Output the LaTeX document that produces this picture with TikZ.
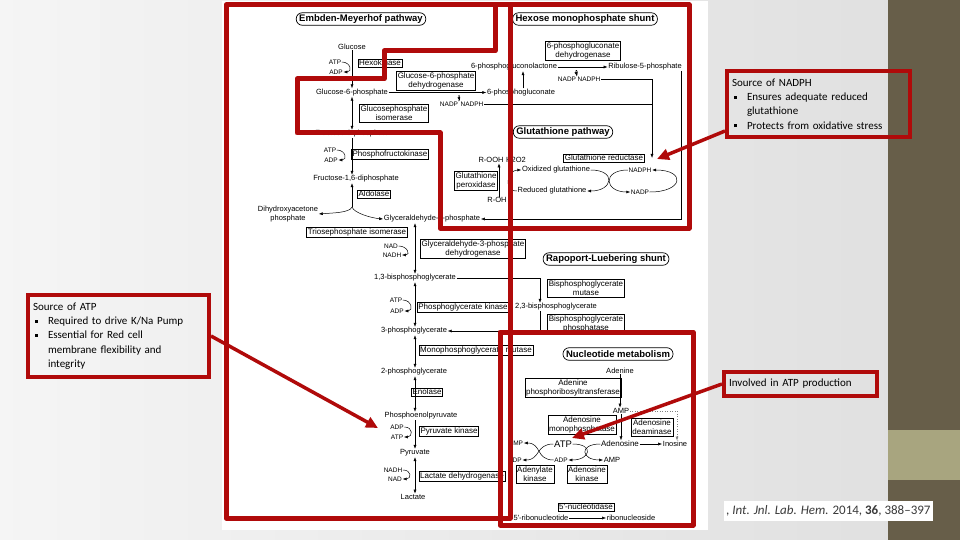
\documentclass[tikz,border=0pt]{standalone}
\usepackage{fontspec}
\newfontfamily\lsans{Liberation Sans}
\newfontfamily\carl{Carlito}
\usetikzlibrary{arrows.meta}
\definecolor{myred}{HTML}{B00A0A}
\definecolor{bandc}{HTML}{675E49}
\definecolor{khaki}{HTML}{A8A57F}
\definecolor{citec}{HTML}{3A3A3A}
\newcommand\bul{\makebox[15pt][l]{\hspace{2pt}\rule[2pt]{2.8pt}{2.8pt}}}
\newcommand\noteind{\hspace*{15pt}}
\begin{document}
\begin{tikzpicture}[x=1pt,y=-1pt,
 lbl/.style={font=\lsans\fontsize{7.5}{8.5}\selectfont, inner sep=0.5pt, align=center},
 sml/.style={font=\lsans\fontsize{6.5}{7.5}\selectfont, inner sep=0.5pt},
 enz/.style={draw, line width=0.5pt, font=\lsans\fontsize{8}{9.5}\selectfont, inner sep=1.2pt, align=center},
 ttl/.style={draw, line width=0.7pt, rounded corners=6pt, font=\lsans\bfseries\fontsize{9.5}{11}\selectfont, inner xsep=3pt, inner ysep=1pt, minimum height=12.5pt},
 arr/.style={-{Latex[length=4pt,width=3pt]}, line width=0.5pt},
 darr/.style={{Latex[length=4pt,width=3pt]}-{Latex[length=4pt,width=3pt]}, line width=0.5pt},
 redline/.style={draw=myred, line width=5pt, line join=round},
 redarr/.style={draw=myred, line width=3.5pt, -{Triangle[length=12pt,width=11pt]}},
 note/.style={draw=myred, line width=4pt, font=\carl\fontsize{11}{14.2}\selectfont, align=left, anchor=north west, inner xsep=5pt, inner ysep=2pt},
]
\useasboundingbox (0,0) rectangle (960,540);
% background
\shade[left color=white!96!black, right color=white!88!black] (0,0) rectangle (888,540);
\fill[bandc] (888,0) rectangle (960,540);
\fill[khaki] (888,430) rectangle (960,480);
\fill[white] (222,1) rectangle (708,530);

% axes
\coordinate (ay) at (352,0);
\coordinate (ax) at (415,0);

% ---------- titles
\node[ttl] (temp) at (361,19) {Embden-Meyerhof pathway};
\node[ttl] (thmp) at (585,19) {Hexose monophosphate shunt};
\node[ttl] (tglut) at (563,132) {Glutathione pathway};
\node[ttl] (trl) at (606,259) {Rapoport-Luebering shunt};
\node[ttl] (tnuc) at (618,354) {Nucleotide metabolism};

% ---------- Embden-Meyerhof
\node[lbl] (glc) at (352,47) {Glucose};
\node[sml] (atp1) at (335,62) {ATP};
\node[sml] (adp1) at (336,72) {ADP};
\node[enz] (hk) at (380,63) {Hexokinase};
\node[lbl] (g6p) at (352,92.5) {Glucose-6-phosphate};
\node[enz] (g6pd) at (436,81) {Glucose-6-phosphate\\dehydrogenase};
\node[sml] (nadp1) at (449,104) {NADP};
\node[sml] (nadph1) at (472,104) {NADPH};
\node[lbl] (pgl) at (514,67) {6-phosphogluconolactone};
\node[lbl] (pg) at (521,92.5) {6-phosphogluconate};
\node[enz] (pgdh) at (583,51) {6-phosphogluconate\\dehydrogenase};
\node[lbl] (ru5p) at (645,67) {Ribulose-5-phosphate};
\node[sml] (nadp2) at (567,79) {NADP};
\node[sml] (nadph2) at (589,79) {NADPH};
\node[enz] (gpi) at (394,113) {Glucosephosphate\\isomerase};
\node[lbl] (f6p) at (352,134) {Fructose-6-phosphate};
\node[sml] (atp2) at (330,150) {ATP};
\node[sml] (adp2) at (331,160) {ADP};
\node[enz] (pfk) at (390,154) {Phosphofructokinase};
\node[lbl] (f16bp) at (356,179) {Fructose-1,6-diphosphate};
\node[enz] (ald) at (374,194) {Aldolase};
\coordinate (split) at (352,207);
\node[lbl] (dhap) at (288,214) {Dihydroxyacetone\\phosphate};
\node[lbl] (g3p) at (432,219) {Glyceraldehyde-3-phosphate};
\node[enz] (tpi) at (357,232) {Triosephosphate isomerase};
\node[sml] (nad1) at (391,246) {NAD};
\node[sml] (nadh1) at (392,255) {NADH};
\node[enz] (gapdh) at (473,249) {Glyceraldehyde-3-phosphate\\dehydrogenase};
\node[lbl] (bpg13) at (415,278) {1,3-bisphosphoglycerate};
\node[sml] (atp3) at (396,300) {ATP};
\node[sml] (adp3) at (397,311) {ADP};
\node[enz] (pgk) at (463,307) {Phosphoglycerate kinase};
\node[lbl] (bpg23) at (556,307) {2,3-bisphosphoglycerate};
\node[lbl] (pg3) at (414,331) {3-phosphoglycerate};
\node[enz] (mpgm) at (476,350) {Monophosphoglycerate mutase};
\node[lbl] (pg2) at (414,372) {2-phosphoglycerate};
\node[enz] (eno) at (427,392) {Enolase};
\node[lbl] (pep) at (421,416) {Phosphoenolpyruvate};
\node[sml] (adp4) at (397,427) {ADP};
\node[sml] (atp4) at (397,437) {ATP};
\node[enz] (pk) at (449,431) {Pyruvate kinase};
\node[lbl] (pyr) at (415,453) {Pyruvate};
\node[sml] (nadh2) at (393,470) {NADH};
\node[sml] (nad2) at (395,479) {NAD};
\node[enz] (ldh) at (462,476) {Lactate dehydrogenase};
\node[lbl] (lac) at (413,497) {Lactate};

% glutathione
\node[enz] (gr) at (604,158) {Glutathione reductase};
\node[lbl] (rooh) at (491,160) {R-OOH};
\node[lbl] (h2o2) at (516,160) {H2O2};
\node[enz] (gpx) at (476,181) {Glutathione\\peroxidase};
\node[lbl] (roh) at (497,200) {R-OH};
\node[lbl] (oxg) at (556,170) {Oxidized glutathione};
\node[lbl] (redg) at (552,191) {Reduced glutathione};
\node[sml] (nadph3) at (640,170) {NADPH};
\node[sml] (nadp3) at (640,192) {NADP};
\coordinate (grin) at (652,158);
\coordinate (rc) at (681,219);

% Rapoport-Luebering
\node[enz] (bpgm) at (586,288) {Bisphosphoglycerate\\mutase};
\node[enz] (bpgp) at (586,324) {Bisphosphoglycerate\\phosphatase};

% nucleotide
\node[lbl] (ade) at (620,371) {Adenine};
\node[enz] (aprt) at (573,388) {Adenine\\phosphoribosyltransferase};
\node[lbl] (amp1) at (621,411) {AMP};
\node[enz] (ampase) at (582,425) {Adenosine\\monophosphatase};
\node[enz] (ada) at (652,427) {Adenosine\\deaminase};
\node[lbl, font=\lsans\fontsize{9.5}{10}\selectfont] (atpN) at (563,444) {ATP};
\node[lbl, font=\lsans\fontsize{8}{9}\selectfont] (ado) at (620,444) {Adenosine};
\node[lbl] (ino) at (675,444) {Inosine};
\node[sml] (adpN) at (561,460) {ADP};
\node[lbl] (ampN) at (612,460) {AMP};
\node[sml] (ampL) at (516,443) {AMP};
\node[sml] (adpL) at (515,460) {ADP};
\node[enz] (adk) at (535,474) {Adenylate\\kinase};
\node[enz] (adok) at (587,474) {Adenosine\\kinase};
\node[enz] (nt5) at (586,507) {5'-nucleotidase};
\node[lbl] (rnt) at (541,518) {5'-ribonucleotide};
\node[lbl] (rns) at (631,518) {ribonucleoside};

% ---------- connectors
\draw[arr] (glc.south) -- (ay |- g6p.north);
\draw[arr] (atp1.east) .. controls +(9,0) and +(9,0) .. (adp1.east);
\draw[darr] (ay |- g6p.south) -- (ay |- f6p.north);
\draw[arr] (g6p.east) -- (pg.west);
\draw[arr] (nadp1.north east) .. controls +(2,-7) and +(-2,-7) .. (nadph1.north west);
\draw[line width=0.5pt] (nadph1.east) -- (nadph1.east -| grin);
\draw[arr] ([xshift=2pt]pg.north) -- ([xshift=2pt]pg.north |- pgl.south);
\draw[arr] (pgl.east) -- (ru5p.west);
\draw[arr] (nadp2.north east) .. controls +(2,-7) and +(-2,-7) .. (nadph2.north west);
\draw[arr] (nadph2.east) -| (grin);
\draw[arr] (ru5p.south -| rc) |- (g3p.east);
\draw[arr] (ay |- f6p.south) -- (ay |- f16bp.north);
\draw[arr] (atp2.east) .. controls +(9,0) and +(9,0) .. (adp2.east);
\draw[arr] (split) -- (split |- f16bp.south);
\draw[arr] (split) .. controls +(-2,6) and +(12,-1) .. (dhap.east);
\draw[arr] (split) .. controls +(2,6) and +(-12,-1) .. (g3p.west);
\draw[darr] (ax |- g3p.south) -- (ax |- bpg13.north);
\draw[arr] (nad1.east) .. controls +(9,0) and +(9,0) .. (nadh1.east);
\draw[darr] (ax |- bpg13.south) -- (ax |- pg3.north);
\draw[arr] (atp3.east) .. controls +(9,0) and +(9,0) .. (adp3.east);
\draw[arr] (bpg13.east) -| ([xshift=-16pt]bpg23.north);
\draw[arr] ([xshift=-16pt]bpg23.south) |- (pg3.east);
\draw[darr] (ax |- pg3.south) -- (ax |- pg2.north);
\draw[darr] (ax |- pg2.south) -- (ax |- pep.north);
\draw[arr] (ax |- pep.south) -- (ax |- pyr.north);
\draw[arr] (adp4.east) .. controls +(9,0) and +(9,0) .. (atp4.east);
\draw[darr] (ax |- pyr.south) -- (ax |- lac.north);
\draw[arr] (nadh2.east) .. controls +(9,0) and +(9,0) .. (nad2.east);

\draw[arr] ([xshift=2pt]roh.north) -- ([xshift=2pt]roh.north |- rooh.south);
\draw[arr] (redg.west) .. controls +(-14,0) and +(-14,0) .. (oxg.west);
\draw[arr] (oxg.east) .. controls +(26,0) and +(26,0) .. (redg.east);
\draw[arr] (nadph3.west) .. controls +(-26,0) and +(-26,0) .. (nadp3.west);
\draw[arr] (nadp3.east) .. controls +(34,0) and +(34,0) .. (nadph3.east);

\draw[arr] (ade.south) -- (ade.south |- amp1.north);
\draw[arr] (amp1.south) -- (amp1.south |- ado.north);
\draw[arr, gray, dotted] (amp1.east) -| ([xshift=2pt]ino.north);
\draw[arr] (ado.east) -- (ino.west);
\draw[arr] (atpN.east) .. controls +(22,0) and +(22,0) .. (adpN.east);
\draw[arr] (ado.west) .. controls +(-22,0) and +(-22,0) .. (ampN.west);
\draw[arr] (atpN.west) .. controls +(-18,0) and +(18,0) .. (adpL.east);
\draw[arr] (adpN.west) .. controls +(-18,0) and +(18,0) .. (ampL.east);
\draw[arr] (rnt.east) -- (rns.west);

% ---------- red outlines
\draw[redline] (226,5) rectangle (510,518);
\draw[redline] (495,5) -- (689,5) -- (689,228) -- (440,228) -- (440,133) -- (297,133) -- (297,79) -- (384,79) -- (384,51) -- (495,51) -- cycle;
\draw[redline] (500,332) rectangle (693,525);

% ---------- notes
\node[note, text width=173pt, minimum height=66pt] (nb) at (725,69) {Source of NADPH\\
\bul Ensures adequate reduced\\
\noteind glutathione\\
\bul Protects from oxidative stress};
\node[note, text width=171pt, minimum height=82pt] (ab) at (26,293) {Source of ATP\\
\bul Required to drive K/Na Pump\\
\bul Essential for Red cell\\
\noteind membrane flexibility and\\
\noteind integrity};
\node[note, text width=143pt, minimum height=24pt] (ib) at (722,370) {Involved in ATP production};

\coordinate (tipN) at (657,159);
\coordinate (tipA) at (378,428);
\coordinate (tipI) at (572,438);
\draw[redarr] ([yshift=8pt]nb.south west) -- (tipN);
\draw[redarr] (ab.east) -- (tipA);
\draw[redarr] (ib.west) -- (tipI);

% citation
\node[fill=white, text=citec, font=\carl\fontsize{13}{14}\selectfont, inner xsep=2pt, inner ysep=2pt, anchor=west, minimum height=20pt] (cite) at (724,511) {, \textit{Int. Jnl. Lab. Hem.} 2014, \textbf{36}, 388–397};
\end{tikzpicture}
\end{document}
